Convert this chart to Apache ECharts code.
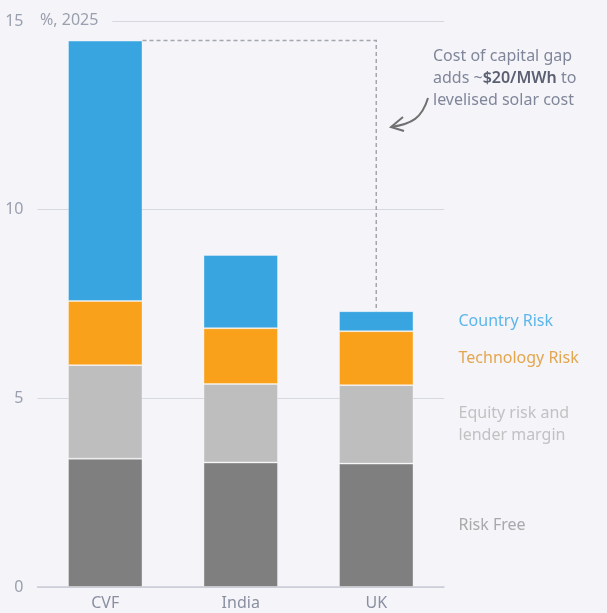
<!DOCTYPE html>
<html>
<head>
<meta charset="utf-8">
<script src="https://cdn.jsdelivr.net/npm/echarts@6/dist/echarts.min.js"></script>
<style>
  html, body { margin: 0; padding: 0; background: #f4f4f9; }
  #chart { width: 607px; height: 613px; }
</style>
</head>
<body>
<div id="chart"></div>
<script>
const categories = ["CVF", "India", "UK"];
const riskFree = [3.4, 3.3, 3.27];
const equityRisk = [2.48, 2.08, 2.08];
const techRisk = [1.7, 1.48, 1.43];
const countryRisk = [6.9, 1.94, 0.53];
const yTicks = [0, 5, 10, 15];

const FONT = "Noto Sans";
const BAR_FRAC = 0.55;

// bar tops used by the dashed connector
const totals = categories.map((c, i) => riskFree[i] + equityRisk[i] + techRisk[i] + countryRisk[i]);

function stackSeries(name, data, color, labelText, labelColor) {
  return {
    name: name,
    type: "bar",
    stack: "total",
    barWidth: (BAR_FRAC * 100) + "%",
    itemStyle: { color: color, borderColor: "rgba(255,255,255,0.35)", borderWidth: 1 },
    data: data.map((v, i) => {
      if (i !== data.length - 1) return v;
      return {
        value: v,
        label: {
          show: true,
          position: "right",
          distance: 45,
          formatter: labelText,
          color: labelColor,
          fontFamily: FONT,
          fontSize: 16,
          lineHeight: 22,
          align: "left"
        }
      };
    })
  };
}

const chart = echarts.init(document.getElementById("chart"));
chart.setOption({
  backgroundColor: "#f4f4f9",
  animation: false,
  grid: { left: 37.5, right: 163, top: 21, bottom: 26 },
  xAxis: {
    type: "category",
    data: categories,
    axisLine: { lineStyle: { color: "#c9ccd6", width: 1.5 } },
    axisTick: { show: false },
    axisLabel: { color: "#8a90a0", fontFamily: FONT, fontSize: 16, margin: 8 }
  },
  yAxis: {
    type: "value",
    min: yTicks[0],
    max: yTicks[yTicks.length - 1],
    interval: yTicks[1] - yTicks[0],
    axisLine: { show: false },
    axisTick: { show: false },
    axisLabel: { color: "#9aa0ae", fontFamily: FONT, fontSize: 16, margin: 14 },
    splitLine: { lineStyle: { color: "#d6d8e0", width: 1 } }
  },
  series: [
    stackSeries("Risk Free", riskFree, "#7f7f7f", "Risk Free", "#a9a9a9"),
    stackSeries("Equity risk and lender margin", equityRisk, "#bebebe", "Equity risk and\nlender margin", "#c2c2c2"),
    stackSeries("Technology Risk", techRisk, "#f9a11b", "Technology Risk", "#e3a64e"),
    stackSeries("Country Risk", countryRisk, "#38a5e1", "Country Risk", "#5cb6ea"),
    {
      type: "custom",
      silent: true,
      z: 1,
      data: [[0, totals[0], 2, totals[2]]],
      encode: { x: [0, 2], y: [1, 3] },
      renderItem: function (params, api) {
        const p0 = api.coord([api.value(0), api.value(1)]);
        const p1 = api.coord([api.value(2), api.value(3)]);
        const half = api.size([1, 0])[0] * BAR_FRAC / 2;
        return {
          type: "polyline",
          shape: { points: [[p0[0] + half, p0[1]], [p1[0], p0[1]], [p1[0], p1[1]]] },
          style: { fill: null, stroke: "#a4a6ae", lineWidth: 1.5, lineDash: [4, 3] }
        };
      }
    }
  ],
  graphic: [
    {
      type: "text",
      left: 36,
      top: 12,
      z: 100,
      style: {
        text: "%, 2025",
        fill: "#9aa0ae",
        fontFamily: FONT,
        fontSize: 16,
        backgroundColor: "#f4f4f9",
        padding: [0, 14, 0, 4]
      }
    },
    {
      type: "text",
      left: 433,
      top: 45,
      z: 100,
      style: {
        text: "Cost of capital gap\nadds ~{b|$20/MWh} to\nlevelised solar cost",
        fill: "#80869a",
        fontFamily: FONT,
        fontSize: 16,
        lineHeight: 22,
        rich: {
          b: { fill: "#5a6072", fontFamily: FONT, fontSize: 16, fontWeight: 600, lineHeight: 22 }
        }
      }
    },
    {
      type: "bezierCurve",
      z: 100,
      shape: { x1: 428, y1: 98, x2: 391, y2: 127, cpx1: 422, cpy1: 118, cpx2: 412, cpy2: 124 },
      style: { stroke: "#707070", lineWidth: 2, fill: null }
    },
    {
      type: "polyline",
      z: 100,
      shape: { points: [[403, 117], [391, 127], [404, 131]] },
      style: { stroke: "#707070", lineWidth: 2, fill: null }
    }
  ]
});
</script>
</body>
</html>
